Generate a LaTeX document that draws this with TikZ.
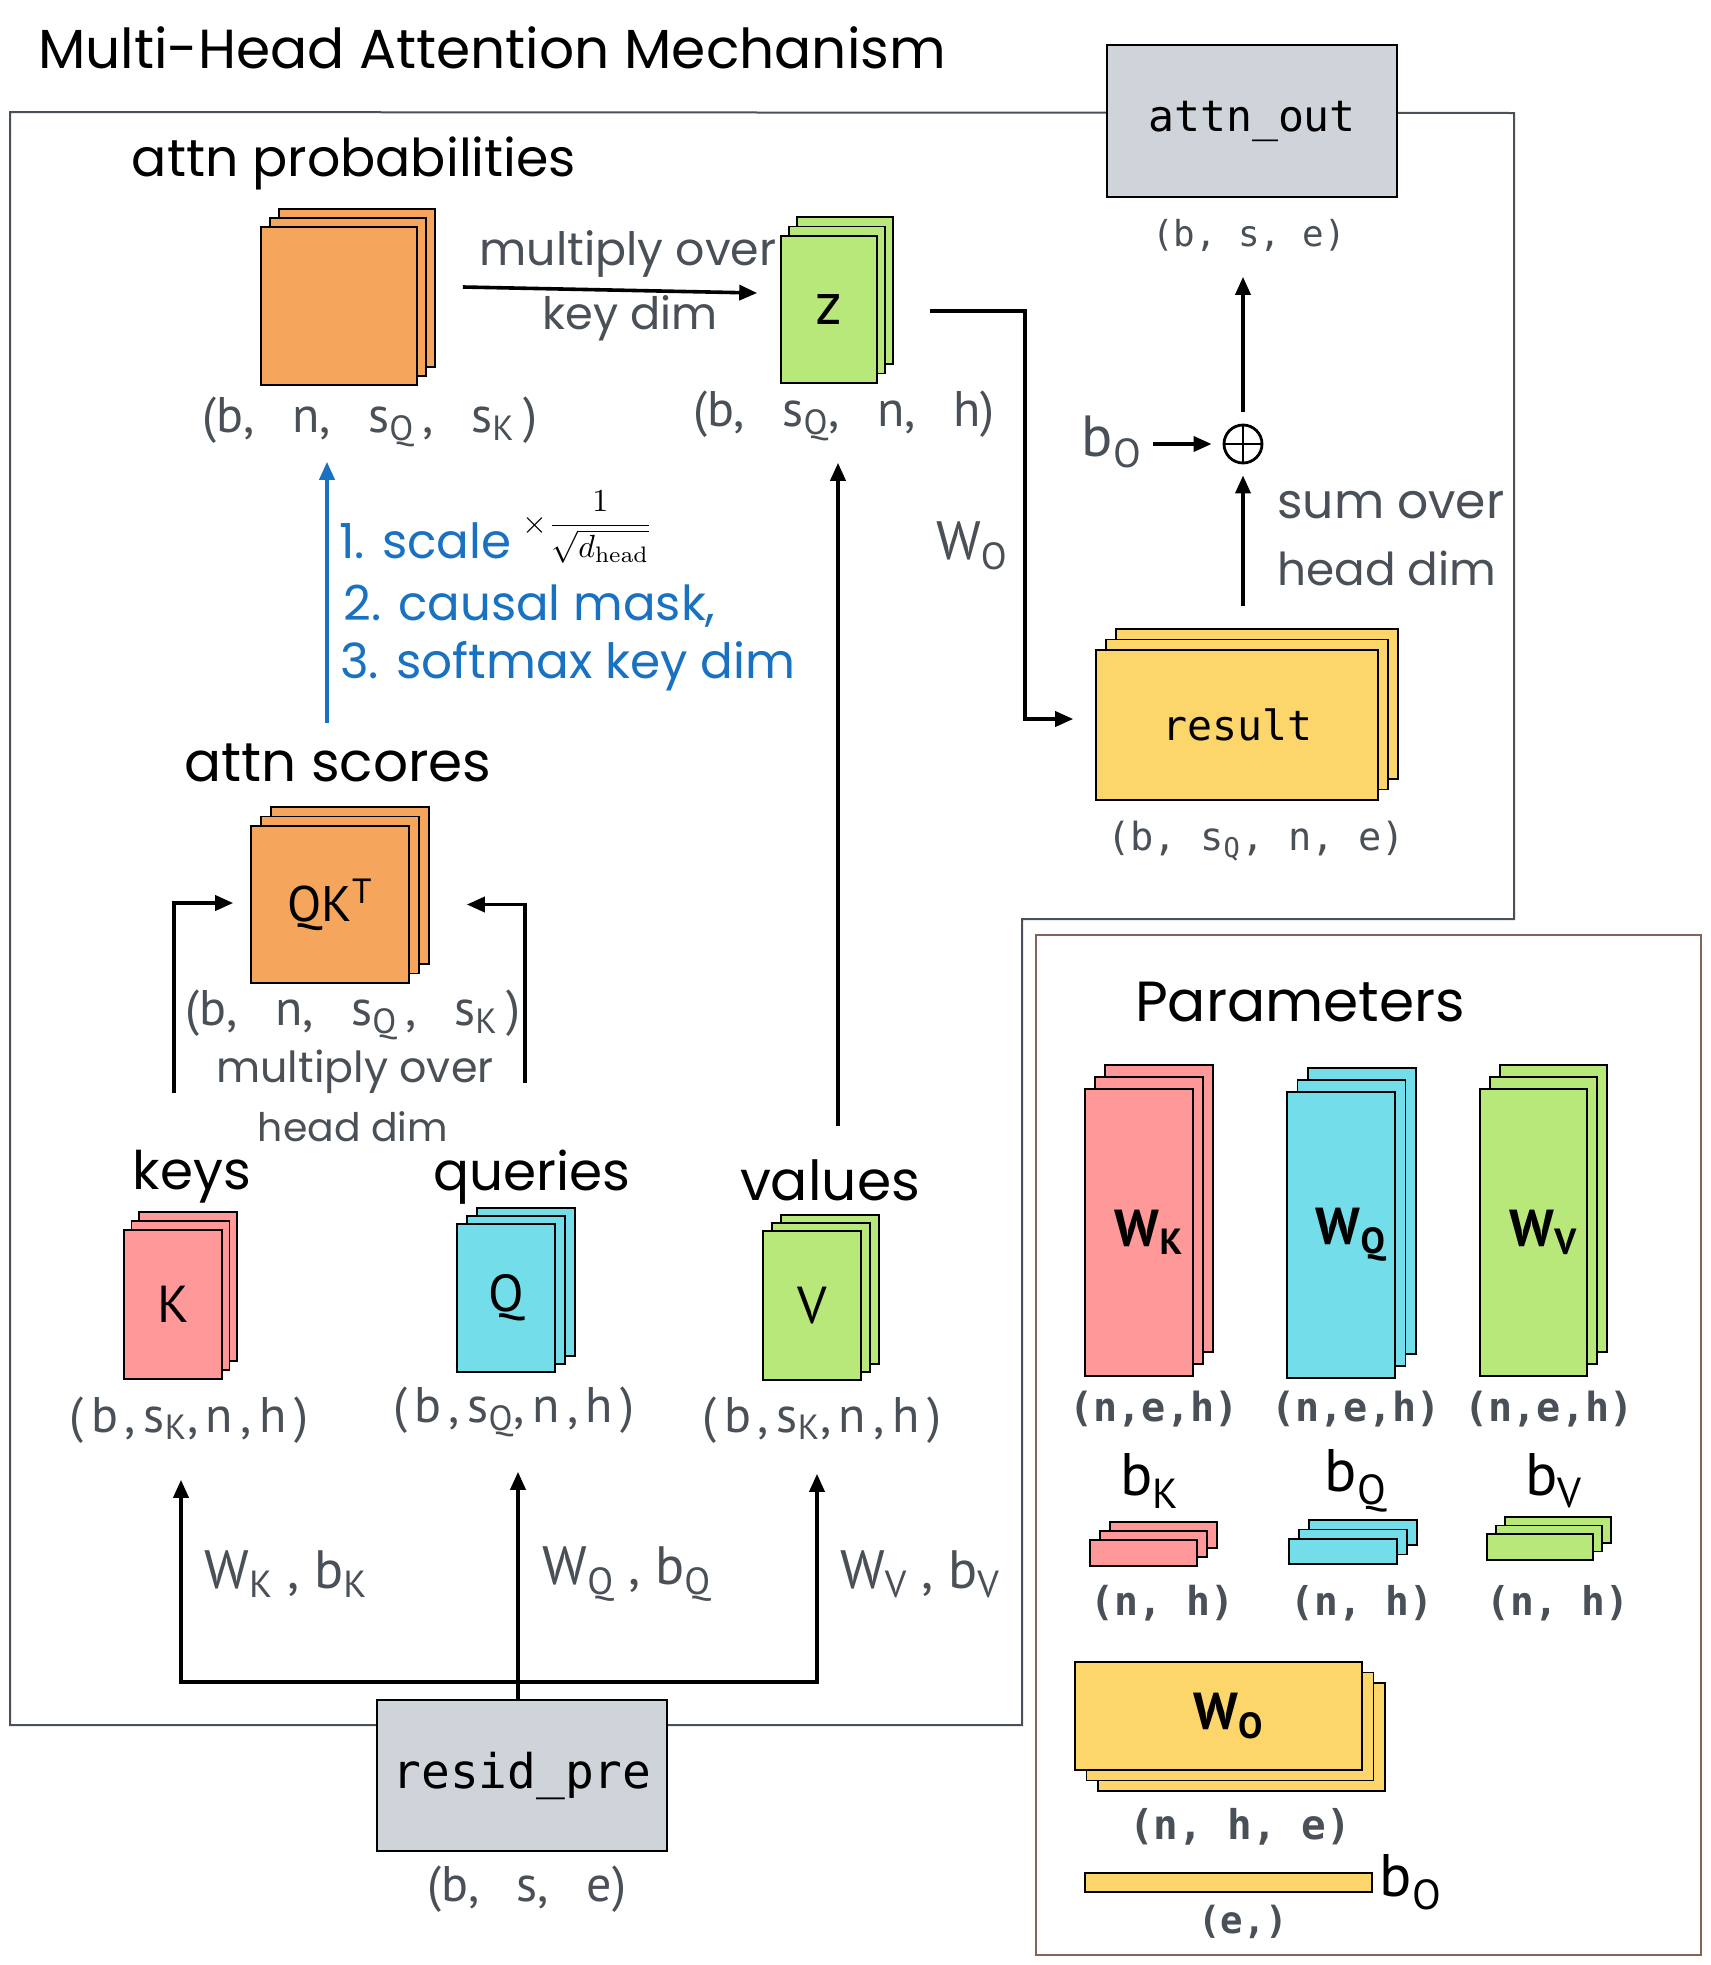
\documentclass[tikz,border=0pt]{standalone}
\usepackage[no-math]{fontspec}
\usepackage{amsmath}
\usepackage{graphicx}
\setmainfont{Liberation Sans}
\newfontfamily\hand{Poppins}
\newfontfamily\lab[LetterSpace=15]{PT Sans}
\newfontfamily\labn{PT Sans}
\newfontfamily\mono{DejaVu Sans Mono}
\usetikzlibrary{calc,arrows.meta}
\definecolor{cOrange}{RGB}{245,165,92}
\definecolor{cGreen}{RGB}{185,232,122}
\definecolor{cYellow}{RGB}{252,214,106}
\definecolor{cPink}{RGB}{255,153,153}
\definecolor{cCyan}{RGB}{116,221,234}
\definecolor{cGrayBox}{RGB}{206,212,218}
\definecolor{tgray}{RGB}{73,80,87}
\definecolor{cBlue}{RGB}{25,113,194}
\definecolor{cBrown}{RGB}{132,99,88}
\newcommand{\fw}[2]{\resizebox{\dimexpr #1pt/2\relax}{!}{#2}}
\newcommand{\dlab}{\labn\fontsize{25}{30}\selectfont}
\newcommand{\slab}{\lab\fontsize{25}{30}\selectfont}
\newcommand{\gp}{\hspace{0.75em}}
\newcommand{\wlab}{\labn\fontsize{26}{30}\selectfont\bfseries\kern10pt}
\tikzset{
  stkline/.style={draw=black, line width=0.8pt},
  arr/.style={line width=1.8pt, -{Triangle[length=9pt,width=7.5pt]}},
  barr/.style={arr, draw=cBlue, color=cBlue},
  mainframe/.style={draw=tgray, line width=1pt},
  pframe/.style={draw=cBrown, line width=1pt},
  gbox/.style={draw=black, line width=0.8pt, fill=cGrayBox, inner sep=0pt},
  txt/.style={inner sep=0pt},
}
\newcommand{\stk}[9]{%
  \draw[stkline,fill=#8] ({#2-#4/2+2*#6},{#3-#5/2+2*#7}) rectangle ++(#4,#5);
  \draw[stkline,fill=#8] ({#2-#4/2+#6},{#3-#5/2+#7}) rectangle ++(#4,#5);
  \node[stkline,fill=#8,minimum width=#4*0.5pt,minimum height=#5*0.5pt,inner sep=0pt] (#1) at (#2,#3) {#9};}
\begin{document}
\begin{tikzpicture}[x=0.5pt,y=-0.5pt]
\fill[white] (0,0) rectangle (1710,1965);
\useasboundingbox (0,0) rectangle (1710,1965);

% frames
\draw[mainframe] (10,112) -- (1514,113) -- (1514,919) -- (1022,919) -- (1022,1725) -- (10,1725) -- cycle;
\draw[pframe] (1036,935) rectangle (1701,1955);

% gray boxes
\node[gbox, minimum width=145pt, minimum height=76pt] (ao) at (1252,121) {\fw{208}{\mono attn\textunderscore out}};
\node[gbox, minimum width=145pt, minimum height=75.5pt] (rp) at (522,1775.5) {\fw{259}{\mono resid\textunderscore pre}};

% text partly hidden behind z
\node[txt,text=tgray] (mult1) at (628,254) {\fw{297}{\hand multiply over}};

% stacks
\stk{ap}{339}{306}{156}{158}{9}{-9}{cOrange}{}
\stk{z}{829}{309.5}{96}{147}{8}{-9.5}{cGreen}{\labn\fontsize{30}{34}\selectfont z}
\stk{res}{1237}{725}{282}{150}{10}{-10.5}{cYellow}{\fw{150}{\mono result}}
\stk{qk}{330}{904.5}{158}{157}{10}{-9.5}{cOrange}{\labn\fontsize{25}{28}\selectfont QK\textsuperscript{T}}
\stk{K}{173}{1304.5}{98}{149}{7.5}{-9}{cPink}{\labn\fontsize{26}{30}\selectfont K}
\stk{Q}{506}{1298}{98}{148}{10}{-8}{cCyan}{\labn\fontsize{26}{30}\selectfont Q}
\stk{V}{812}{1305.5}{98}{149}{9}{-8}{cGreen}{\labn\fontsize{26}{30}\selectfont V}
\stk{WK}{1139}{1232.5}{108}{287}{10}{-12}{cPink}{\wlab W\textsubscript{K}}
\stk{WQ}{1341}{1235}{108}{286}{10.5}{-12}{cCyan}{\wlab W\textsubscript{Q}}
\stk{WV}{1533.5}{1232.5}{107}{287}{10}{-12}{cGreen}{\wlab W\textsubscript{V}}
\stk{bK}{1143.5}{1553}{107}{26}{10}{-9}{cPink}{}
\stk{bQ}{1343}{1551.5}{108}{25}{10}{-9.5}{cCyan}{}
\stk{bV}{1540}{1547}{106}{26}{9}{-8.5}{cGreen}{}
\stk{WO}{1218.5}{1716}{287}{108}{11.5}{10.5}{cYellow}{\wlab W\textsubscript{O}}
\node[stkline, fill=cYellow, minimum width=143.5pt, minimum height=9.5pt, inner sep=0pt] (bObar) at (1228.5,1882.5) {};

% labels
\node[txt] (title) at (492,48) {\fw{908}{\hand Multi-Head Attention Mechanism}};
\node[txt] (aplbl) at (354,163) {\fw{444}{\hand attn probabilities}};
\node[txt,text=tgray] (keydim) at (630,318) {\fw{175}{\hand key dim}};
\node[txt,text=tgray] (apdim) at (370,422) {\dlab (b,\gp n,\gp s\textsubscript{Q}\,,\gp s\textsubscript{K}\,)};
\node[txt,text=tgray] (zdim) at (844,416) {\dlab (b,\gp s\textsubscript{Q},\gp n,\gp h)};
\node[txt,text=cBlue,anchor=west] (bl1) at (339,541) {\fw{172}{\hand 1. scale}};
\node[txt] (frac) at (588,527) {\fw{130}{$\times\dfrac{1}{\sqrt{d_{\mathrm{head}}}}$}};
\node[txt,text=cBlue,anchor=west] (bl2) at (343,606) {\fw{372}{\hand 2. causal mask,}};
\node[txt,text=cBlue,anchor=west] (bl3) at (340,666) {\fw{455}{\hand 3. softmax key dim}};
\node[txt,text=tgray] (wolbl) at (972,546) {\labn\fontsize{27}{30}\selectfont W\textsubscript{O}};
\node[txt] (scl) at (338,763) {\fw{307}{\hand attn scores}};
\node[txt,text=tgray] (qkdim) at (353,1015) {\dlab (b,\gp n,\gp s\textsubscript{Q}\,,\gp s\textsubscript{K}\,)};
\node[txt,text=tgray] (mult2) at (355,1072) {\fw{277}{\hand multiply over}};
\node[txt,text=tgray] (hd1) at (353,1127) {\fw{190}{\hand head dim}};
\node[txt] (keys) at (192,1177) {\fw{118}{\hand keys}};
\node[txt] (queries) at (532,1177) {\fw{197}{\hand queries}};
\node[txt] (values) at (830,1180) {\fw{180}{\hand values}};
\node[txt,text=tgray] (kdim) at (189,1420) {\slab (b,s\textsubscript{K},n,h)};
\node[txt,text=tgray] (qdim) at (514,1412) {\slab (b,s\textsubscript{Q},n,h)};
\node[txt,text=tgray] (vdim) at (822,1420) {\slab (b,s\textsubscript{K},n,h)};
\node[txt,text=tgray] (wkb) at (286,1574) {\labn\fontsize{27}{30}\selectfont W\textsubscript{K} , b\textsubscript{K}};
\node[txt,text=tgray] (wqb) at (627,1574) {\labn\fontsize{27}{30}\selectfont W\textsubscript{Q} , b\textsubscript{Q}};
\node[txt,text=tgray] (wvb) at (920,1574) {\labn\fontsize{27}{30}\selectfont W\textsubscript{V} , b\textsubscript{V}};
\node[txt,text=tgray] (rpdim) at (527,1889) {\dlab (b,\gp s,\gp e)};
\node[txt,text=tgray] (aodim) at (1249,235) {\fw{194}{\mono (b, s, e)}};
\node[txt,text=tgray] (bolbl) at (1112,442) {\labn\fontsize{29}{32}\selectfont b\textsubscript{O}};
\node[txt,text=tgray,anchor=west] (sum1) at (1277,505) {\fw{227}{\hand sum over}};
\node[txt,text=tgray,anchor=west] (sum2) at (1277,568) {\fw{219}{\hand head dim}};
\node[txt,text=tgray] (resdim) at (1256,841) {\fw{298}{\mono (b, s\textsubscript{Q}, n, e)}};
\node[txt] (params) at (1300,1002) {\fw{330}{\hand Parameters}};
\node[txt,text=tgray] (nehK) at (1154,1409) {\fw{169}{\mono\bfseries (n,e,h)}};
\node[txt,text=tgray] (nehQ) at (1356,1409) {\fw{169}{\mono\bfseries (n,e,h)}};
\node[txt,text=tgray] (nehV) at (1549,1409) {\fw{169}{\mono\bfseries (n,e,h)}};
\node[txt] (bKl) at (1150,1481) {\labn\fontsize{30}{34}\selectfont b\textsubscript{K}};
\node[txt] (bQl) at (1356,1481) {\labn\fontsize{30}{34}\selectfont b\textsubscript{Q}};
\node[txt] (bVl) at (1554,1481) {\labn\fontsize{30}{34}\selectfont b\textsubscript{V}};
\node[txt,text=tgray] (nhK) at (1162,1603) {\fw{144}{\mono\bfseries (n, h)}};
\node[txt,text=tgray] (nhQ) at (1362,1603) {\fw{143}{\mono\bfseries (n, h)}};
\node[txt,text=tgray] (nhV) at (1558,1603) {\fw{143}{\mono\bfseries (n, h)}};
\node[txt,text=tgray] (nhe) at (1240,1827) {\fw{222}{\mono\bfseries (n, h, e)}};
\node[txt] (bOl) at (1411,1882) {\labn\fontsize{30}{34}\selectfont b\textsubscript{O}};
\node[txt,text=tgray] (edim) at (1243,1922) {\fw{90}{\mono\bfseries (e,)}};

% plus
\node[circle, draw, line width=1.4pt, minimum size=19pt, inner sep=0pt] (plus) at (1243,444) {};
\draw[line width=1.4pt] (plus.north) -- (plus.south) (plus.west) -- (plus.east);

% connectors
\draw[arr] ($(ap.east)+(45,-19)$) -- ($(z.west)+(-23,-16.5)$);
\draw[arr] ($(z.east)+(52,1.5)$) -- ++(95,0) |- ($(res.west)+(-22,-6)$);
\draw[arr] ($(res.north -| plus.south)+(0,-43)$) -- ($(plus.south)+(0,11)$);
\draw[arr] ($(plus.north)+(0,-12)$) -- ($(plus.north |- ao.south)+(0,79)$);
\draw[arr] ($(plus.west)+(-70,0)$) -- ($(plus.west)+(-11,0)$);
\draw[barr] ($(qk.north)+(-3,-102)$) -- ($(ap.south)+(-12,76)$);
\draw[arr] ($(V.north)+(26,-104)$) -- ($(z.south)+(9,79)$);
\draw[arr] ($(K.north)+(1,-136)$) |- ($(qk.west)+(-17,-1.5)$);
\draw[arr] ($(Q.north)+(19,-140)$) |- ($(qk.east)+(57,0)$);
\draw[arr] ($(rp.north)+(-4,0)$) -- ($(Q.south)+(12,99)$);
\draw[arr] ($(rp.north)+(-4,-17)$) -| ($(K.south)+(8,100)$);
\draw[arr] ($(rp.north)+(-4,-17)$) -| ($(V.south)+(5,93)$);
\end{tikzpicture}
\end{document}
